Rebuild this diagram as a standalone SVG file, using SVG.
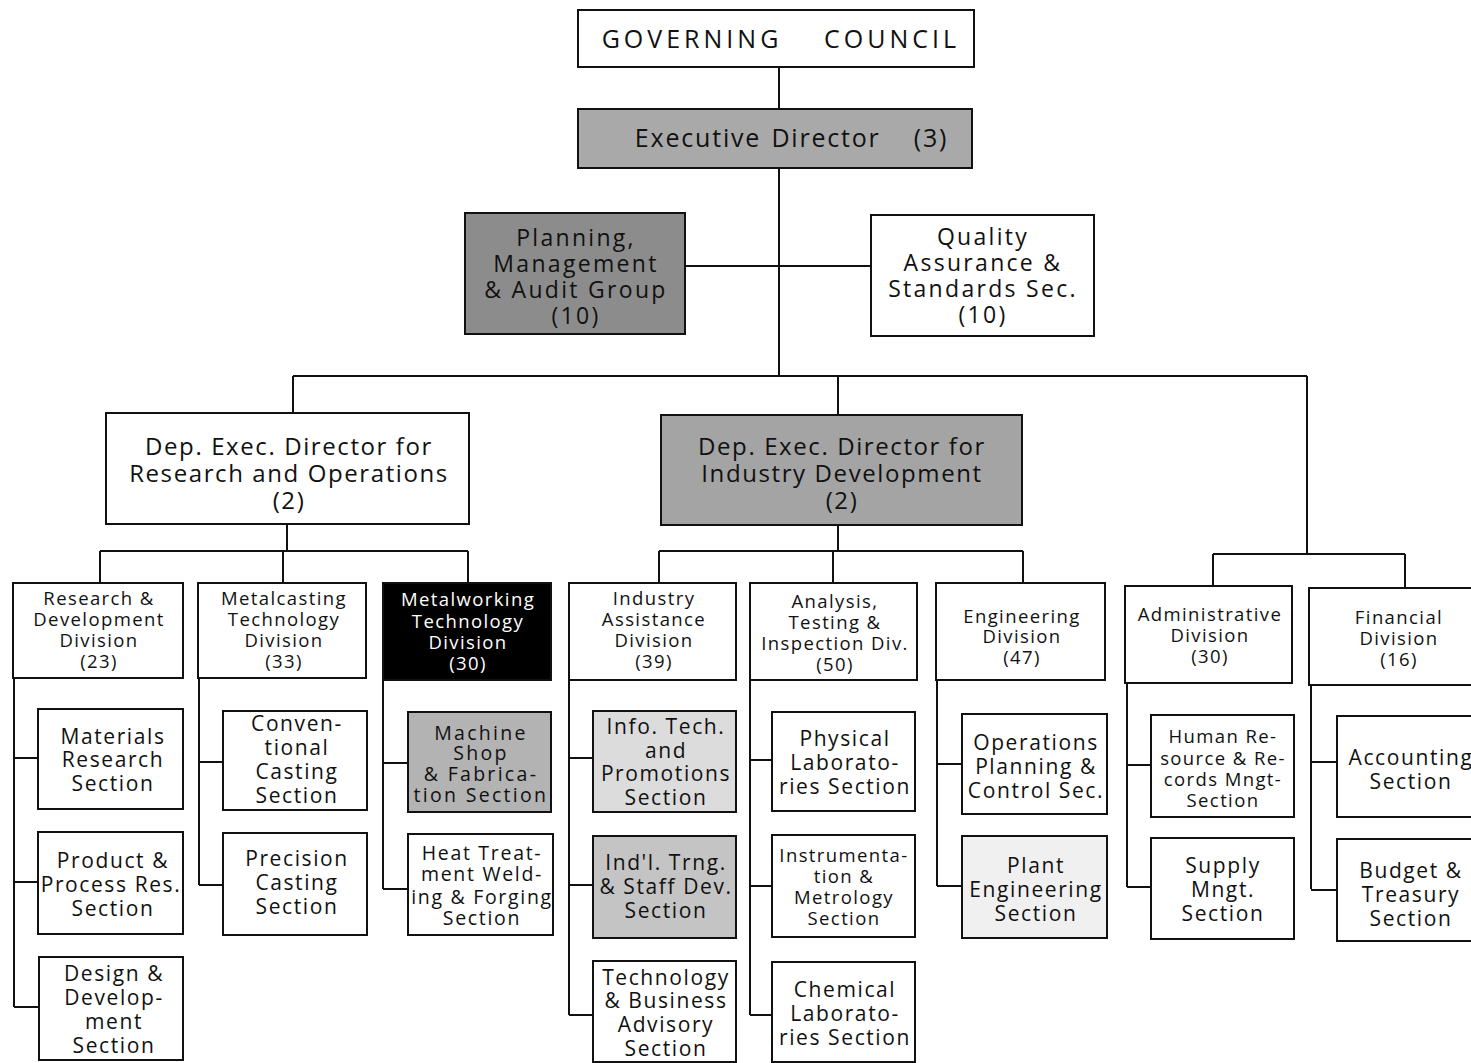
<svg xmlns="http://www.w3.org/2000/svg" width="1471" height="1063" viewBox="0 0 1471 1063">
<style>
text{font-family:"Open Sans","Noto Sans","DejaVu Sans",sans-serif;fill:#111;text-anchor:middle}
.box{fill:#fff;stroke:#111;stroke-width:2}
.g1{fill:#a9a9a9}
.g2{fill:#8c8c8c}
.g3{fill:#a4a4a4}
.g4{fill:#b3b3b3}
.g5{fill:#c4c4c4}
.g6{fill:#dcdcdc}
.g7{fill:#f0f0f0}
.blk{fill:#000}
.wt{fill:#fff}
.t26{font-size:25px;letter-spacing:1.8px}
.gc{font-size:25px;letter-spacing:4px}
.t24{font-size:24px;letter-spacing:1.6px}
.t22{font-size:23px;letter-spacing:2.3px}
.t19{font-size:18.5px;letter-spacing:1.4px}
.t21{font-size:21px;letter-spacing:1.6px}
.t20{font-size:19.5px;letter-spacing:2.3px}
.t20b{font-size:19.5px;letter-spacing:1.7px}
.conn{fill:none;stroke:#111;stroke-width:2}
</style>
<rect width="1471" height="1063" fill="#fff"/>
<g id="connectors" class="conn">
<path d="M779 67V109M779 168V376M685 266H871M293 376H1307M293 376V413M838 376V416M1307 376V554"/>
<path d="M287 524V551M100 551H468M100 551V583M283 551V583M468 551V583"/>
<path d="M838 525V551M659 551H1023M659 551V583M833 551V583M1023 551V583"/>
<path d="M1213 554H1405M1213 554V586M1405 554V588"/>
<path d="M14 678V1007M14 758H38M14 882H38M14 1007H39"/>
<path d="M199 678V885M199 762H223M199 885H223"/>
<path d="M383 680V889M383 763H408M383 889H408"/>
<path d="M569 680V1015M569 758H593M569 885H593M569 1015H593"/>
<path d="M750 680V1015M750 760H772M750 886H772M750 1015H772"/>
<path d="M937 680V886M937 764H962M937 886H962"/>
<path d="M1127 683V887M1127 765H1151M1127 887H1151"/>
<path d="M1311 685V889M1311 762H1337M1311 890H1337"/>
</g>
<g id="governing-council"><rect class="box" x="578" y="10" width="396" height="57"/><text class="gc" x="692" y="48">GOVERNING</text><text class="gc" x="892" y="48">COUNCIL</text></g>
<g id="executive-director"><rect class="box g1" x="578" y="109" width="394" height="59"/><text class="t26" x="698" y="147">Executive</text><text class="t26" x="826" y="147">Director</text><text class="t26" x="931" y="147">(3)</text></g>
<g id="planning"><rect class="box g2" x="465" y="213" width="220" height="121"/><text class="t22" x="576" y="246">Planning,</text><text class="t22" x="576" y="272">Management</text><text class="t22" x="576" y="298">&amp; Audit Group</text><text class="t22" x="576" y="324">(10)</text></g>
<g id="quality"><rect class="box" x="871" y="215" width="223" height="121"/><text class="t22" x="983" y="245">Quality</text><text class="t22" x="983" y="271">Assurance &amp;</text><text class="t22" x="983" y="297">Standards Sec.</text><text class="t22" x="983" y="323">(10)</text></g>
<g id="dep-rno"><rect class="box" x="106" y="413" width="363" height="111"/><text class="t24" x="289" y="455">Dep. Exec. Director for</text><text class="t24" x="289" y="482">Research and Operations</text><text class="t24" x="289" y="509">(2)</text></g>
<g id="dep-id"><rect class="box g3" x="661" y="415" width="361" height="110"/><text class="t24" x="842" y="455">Dep. Exec. Director for</text><text class="t24" x="842" y="482">Industry Development</text><text class="t24" x="842" y="509">(2)</text></g>
<g id="rd-div"><rect class="box" x="13" y="583" width="170" height="95"/><text class="t19" x="99" y="605">Research &amp;</text><text class="t19" x="99" y="626">Development</text><text class="t19" x="99" y="647">Division</text><text class="t19" x="99" y="668">(23)</text></g>
<g id="mc-div"><rect class="box" x="198" y="583" width="168" height="95"/><text class="t19" x="284" y="605">Metalcasting</text><text class="t19" x="284" y="626">Technology</text><text class="t19" x="284" y="647">Division</text><text class="t19" x="284" y="668">(33)</text></g>
<g id="mw-div"><rect class="box blk" x="383" y="583" width="168" height="97"/><text class="t19 wt" x="468" y="606">Metalworking</text><text class="t19 wt" x="468" y="628">Technology</text><text class="t19 wt" x="468" y="649">Division</text><text class="t19 wt" x="468" y="670">(30)</text></g>
<g id="ia-div"><rect class="box" x="569" y="583" width="167" height="97"/><text class="t19" x="654" y="605">Industry</text><text class="t19" x="654" y="626">Assistance</text><text class="t19" x="654" y="647">Division</text><text class="t19" x="654" y="668">(39)</text></g>
<g id="ati-div"><rect class="box" x="750" y="583" width="167" height="97"/><text class="t19" x="835" y="608">Analysis,</text><text class="t19" x="835" y="629">Testing &amp;</text><text class="t19" x="835" y="650">Inspection Div.</text><text class="t19" x="835" y="671">(50)</text></g>
<g id="eng-div"><rect class="box" x="936" y="583" width="169" height="97"/><text class="t19" x="1022" y="623">Engineering</text><text class="t19" x="1022" y="643">Division</text><text class="t19" x="1022" y="664">(47)</text></g>
<g id="adm-div"><rect class="box" x="1125" y="586" width="167" height="97"/><text class="t19" x="1210" y="621">Administrative</text><text class="t19" x="1210" y="642">Division</text><text class="t19" x="1210" y="663">(30)</text></g>
<g id="fin-div"><rect class="box" x="1309" y="588" width="170" height="97"/><text class="t19" x="1399" y="624">Financial</text><text class="t19" x="1399" y="645">Division</text><text class="t19" x="1399" y="666">(16)</text></g>
<g id="materials"><rect class="box" x="38" y="709" width="145" height="100"/><text class="t21" x="113" y="744">Materials</text><text class="t21" x="113" y="767">Research</text><text class="t21" x="113" y="791">Section</text></g>
<g id="product"><rect class="box" x="38" y="832" width="145" height="102"/><text class="t21" x="113" y="868">Product &amp;</text><text class="t21" x="111" y="892">Process Res.</text><text class="t21" x="113" y="916">Section</text></g>
<g id="design"><rect class="box" x="39" y="957" width="144" height="103"/><text class="t21" x="114" y="981">Design &amp;</text><text class="t21" x="114" y="1005">Develop-</text><text class="t21" x="114" y="1029">ment</text><text class="t21" x="114" y="1053">Section</text></g>
<g id="conventional"><rect class="box" x="223" y="711" width="144" height="99"/><text class="t21" x="297" y="731">Conven-</text><text class="t21" x="297" y="755">tional</text><text class="t21" x="297" y="779">Casting</text><text class="t21" x="297" y="803">Section</text></g>
<g id="precision"><rect class="box" x="223" y="833" width="144" height="102"/><text class="t21" x="297" y="866">Precision</text><text class="t21" x="297" y="890">Casting</text><text class="t21" x="297" y="914">Section</text></g>
<g id="machine-shop"><rect class="box g4" x="408" y="712" width="143" height="100"/><text class="t20" x="481" y="740">Machine</text><text class="t20" x="481" y="760">Shop</text><text class="t20" x="481" y="781">&amp; Fabrica-</text><text class="t20" x="481" y="802">tion Section</text></g>
<g id="heat-treatment"><rect class="box" x="408" y="834" width="145" height="101"/><text class="t20b" x="482" y="860">Heat Treat-</text><text class="t20b" x="482" y="881">ment Weld-</text><text class="t20b" x="482" y="904">ing &amp; Forging</text><text class="t20b" x="482" y="925">Section</text></g>
<g id="info-tech"><rect class="box g6" x="593" y="711" width="143" height="101"/><text class="t21" x="666" y="734">Info. Tech.</text><text class="t21" x="666" y="758">and</text><text class="t21" x="666" y="781">Promotions</text><text class="t21" x="666" y="805">Section</text></g>
<g id="indl-trng"><rect class="box g5" x="593" y="836" width="143" height="102"/><text class="t21" x="666" y="870">Ind'l. Trng.</text><text class="t21" x="666" y="894">&amp; Staff Dev.</text><text class="t21" x="666" y="918">Section</text></g>
<g id="tech-business"><rect class="box" x="593" y="961" width="143" height="101"/><text class="t21" x="666" y="985">Technology</text><text class="t21" x="666" y="1008">&amp; Business</text><text class="t21" x="666" y="1032">Advisory</text><text class="t21" x="666" y="1056">Section</text></g>
<g id="physical"><rect class="box" x="772" y="712" width="143" height="99"/><text class="t21" x="845" y="746">Physical</text><text class="t21" x="845" y="770">Laborato-</text><text class="t21" x="845" y="794">ries Section</text></g>
<g id="instrumentation"><rect class="box" x="772" y="835" width="143" height="102"/><text class="t19" x="844" y="862">Instrumenta-</text><text class="t19" x="844" y="883">tion &amp;</text><text class="t19" x="844" y="904">Metrology</text><text class="t19" x="844" y="925">Section</text></g>
<g id="chemical"><rect class="box" x="772" y="962" width="143" height="100"/><text class="t21" x="845" y="997">Chemical</text><text class="t21" x="845" y="1021">Laborato-</text><text class="t21" x="845" y="1045">ries Section</text></g>
<g id="operations"><rect class="box" x="962" y="714" width="145" height="100"/><text class="t21" x="1036" y="750">Operations</text><text class="t21" x="1036" y="774">Planning &amp;</text><text class="t21" x="1036" y="798">Control Sec.</text></g>
<g id="plant-eng"><rect class="box g7" x="962" y="836" width="145" height="102"/><text class="t21" x="1036" y="873">Plant</text><text class="t21" x="1036" y="897">Engineering</text><text class="t21" x="1036" y="921">Section</text></g>
<g id="human-res"><rect class="box" x="1151" y="715" width="143" height="102"/><text class="t19" x="1223" y="743">Human Re-</text><text class="t19" x="1223" y="765">source &amp; Re-</text><text class="t19" x="1223" y="786">cords Mngt-</text><text class="t19" x="1223" y="807">Section</text></g>
<g id="supply"><rect class="box" x="1151" y="838" width="143" height="101"/><text class="t21" x="1223" y="873">Supply</text><text class="t21" x="1223" y="897">Mngt.</text><text class="t21" x="1223" y="921">Section</text></g>
<g id="accounting"><rect class="box" x="1337" y="716" width="150" height="101"/><text class="t21" x="1411" y="765">Accounting</text><text class="t21" x="1411" y="789">Section</text></g>
<g id="budget"><rect class="box" x="1337" y="839" width="150" height="102"/><text class="t21" x="1411" y="878">Budget &amp;</text><text class="t21" x="1411" y="902">Treasury</text><text class="t21" x="1411" y="926">Section</text></g>
</svg>
